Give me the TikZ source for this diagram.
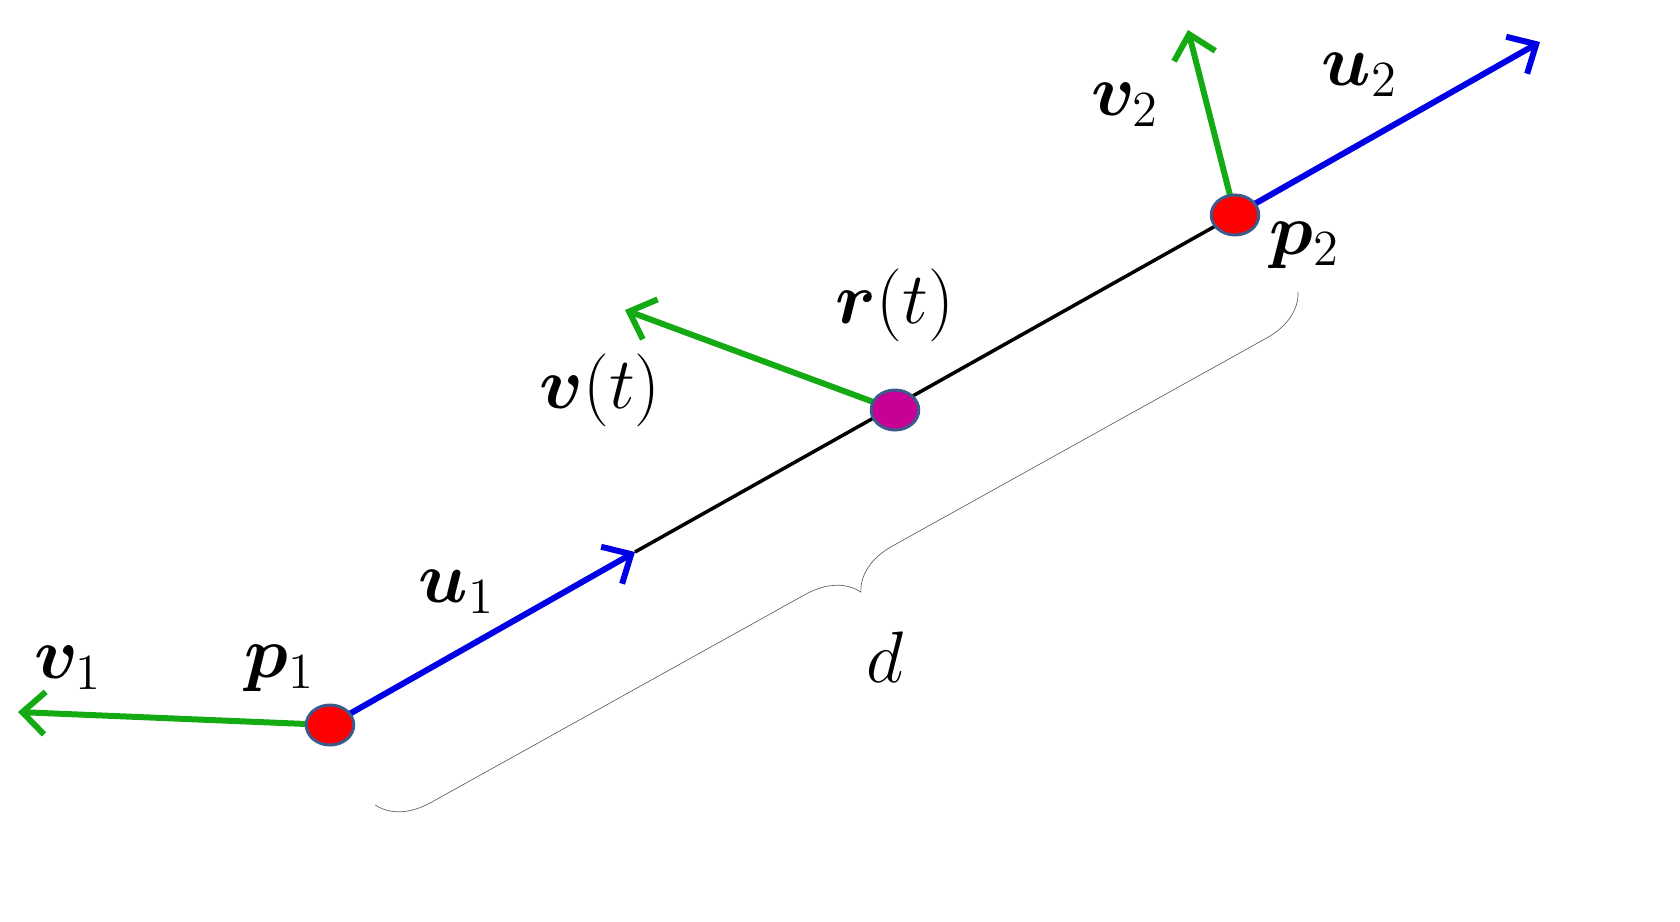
\documentclass[tikz,border=0pt]{standalone}
\usepackage{amsmath,bm}
\usetikzlibrary{arrows.meta,decorations.pathreplacing,shapes.geometric}
\begin{document}
\begin{tikzpicture}[x=0.02cm,y=-0.02cm,
 vec/.style={line width=0.12cm,-{Straight Barb[length=0.45cm,width=0.85cm,line width=0.12cm]}},
 blu/.style={vec,draw={rgb,255:red,0;green,0;blue,230}},
 grn/.style={vec,draw={rgb,255:red,20;green,170;blue,20}},
 pt/.style={ellipse,minimum width=0.95cm,minimum height=0.8cm,draw={rgb,255:red,60;green,90;blue,140},line width=0.06cm,inner sep=0},
 lab/.style={font=\huge,scale=2,transform shape}]
\useasboundingbox (0,0) rectangle (1680,922);
\coordinate (p1) at (330,725);
\coordinate (p2) at (1235,215);
\coordinate (r) at (895,410);
\coordinate (u1e) at (635,552);
\coordinate (u2e) at (1540,42);
\coordinate (v1e) at (18,712);
\coordinate (v2e) at (1188,30);
\coordinate (vte) at (625,310);
\coordinate (b1) at (375,805);
\coordinate (b2) at (1298,292);
\draw[line width=0.07cm] (u1e) -- (p2);
\draw[blu] (p1) -- (u1e);
\draw[blu] (p2) -- (u2e);
\draw[grn] (p1) -- (v1e);
\draw[grn] (p2) -- (v2e);
\draw[grn] (r) -- (vte);
\draw[gray!80!black,thin,decorate,decoration={brace,amplitude=1.0cm,aspect=0.5}] (b2) -- (b1);
\node[pt,fill=red] (P1) at (p1) {};
\node[pt,fill=red] (P2) at (p2) {};
\node[pt,fill={rgb,255:red,200;green,0;blue,150}] (R) at (r) {};
\node[lab] at (68,668) {$\bm{v}_1$};
\node[lab] at (280,668) {$\bm{p}_1$};
\node[lab] at (457,592) {$\bm{u}_1$};
\node[lab] at (600,390) {$\bm{v}(t)$};
\node[lab] at (895,305) {$\bm{r}(t)$};
\node[lab] at (885,657) {$d$};
\node[lab] at (1125,105) {$\bm{v}_2$};
\node[lab] at (1360,75) {$\bm{u}_2$};
\node[lab] at (1305,245) {$\bm{p}_2$};
\end{tikzpicture}
\end{document}
